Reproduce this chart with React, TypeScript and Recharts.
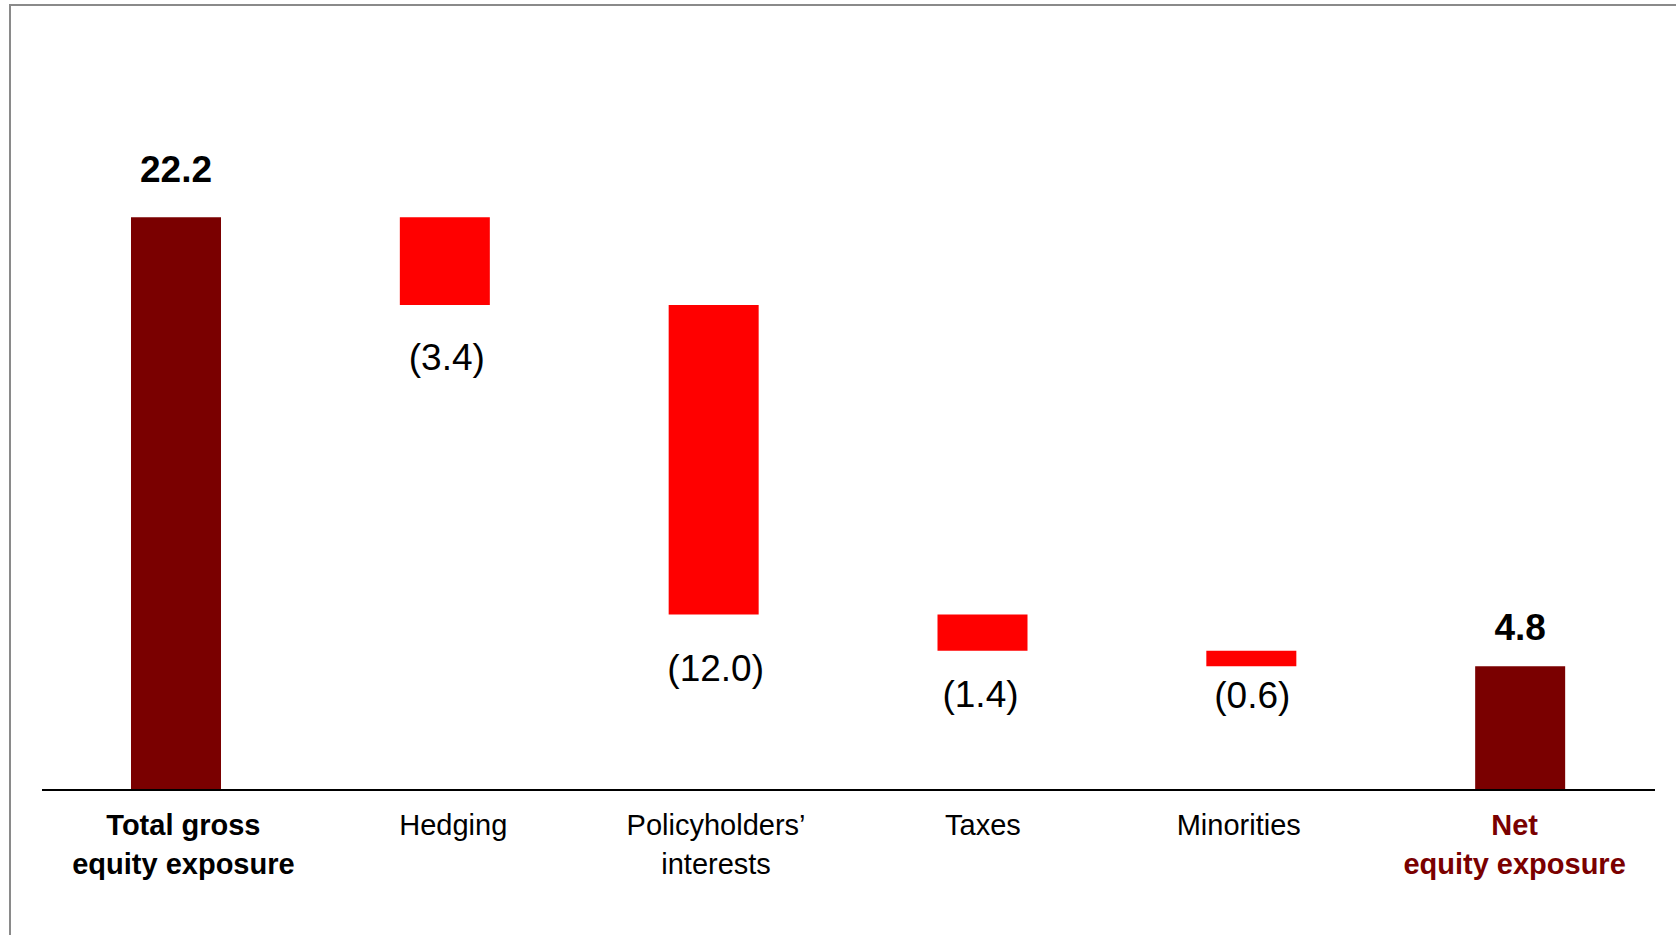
import React from 'react';
import { BarChart, Bar, XAxis, YAxis, Cell, LabelList } from 'recharts';

// equity exposure bridge, EUR bn
const categories = [
  'Total gross\nequity exposure',
  'Hedging',
  'Policyholders’\ninterests',
  'Taxes',
  'Minorities',
  'Net\nequity exposure',
];
const steps = [22.2, -3.4, -12.0, -1.4, -0.6, 4.8];
const isTotal = [true, false, false, false, false, true];

const DARK = '#7a0000';
const RED = '#ff0000';
const FONT = '"Liberation Sans", Arial, sans-serif';

// small hand nudges for the text around each bar
const tickNudge = [7, 8, 2, 0, -13, -6];
const labelNudge = [0, 2, 2, -2, 1, 0];
const topGap = [35, 0, 0, 0, 0, 26];
const dropGap = [0, 65, 66, 56, 42, 0];

// floating bars: totals start at zero, changes hang from the running total
let running = 0;
const data = categories.map((name, i) => {
  const v = steps[i];
  let range: [number, number];
  if (isTotal[i]) {
    range = [0, v];
    running = v;
  } else {
    range = [running + v, running];
    running += v;
  }
  return { name, range, value: v, total: isTotal[i] };
});

const CategoryTick = (props: any) => {
  const { x, y, payload, index } = props;
  const lines = String(payload.value).split('\n');
  const last = index === categories.length - 1;
  const first = index === 0;
  const tx = x + (tickNudge[index] || 0);
  return (
    <text
      x={tx}
      y={y}
      textAnchor="middle"
      fontFamily={FONT}
      fontSize={29}
      fontWeight={first || last ? 'bold' : 'normal'}
      fill={last ? DARK : '#000'}
    >
      {lines.map((l, k) => (
        <tspan key={k} x={tx} dy={k === 0 ? 45 : 39}>
          {l}
        </tspan>
      ))}
    </text>
  );
};

const ValueLabel = (props: any) => {
  const { x, y, width, height, index } = props;
  const d = data[index];
  const top = Math.min(y, y + height);
  const bottom = Math.max(y, y + height);
  const cx = x + width / 2 + labelNudge[index];
  if (d.total) {
    return (
      <text x={cx} y={top - topGap[index]} textAnchor="middle" fontFamily={FONT} fontSize={37} fontWeight="bold" fill="#000">
        {d.value.toFixed(1)}
      </text>
    );
  }
  return (
    <text x={cx} y={bottom + dropGap[index]} textAnchor="middle" fontFamily={FONT} fontSize={37} fill="#000">
      {`(${Math.abs(d.value).toFixed(1)})`}
    </text>
  );
};

export default function App() {
  return (
    <div style={{ position: 'fixed', left: 0, top: 0, width: 1676, height: 935, background: '#fff', overflow: 'hidden' }}>
      <div
        style={{
          position: 'absolute',
          left: 9,
          top: 4,
          right: -10,
          bottom: -10,
          borderTop: '2px solid #8a8a8a',
          borderLeft: '2px solid #8a8a8a',
        }}
      />
      <div style={{ position: 'absolute', left: 0, top: 0 }}>
        <BarChart width={1676} height={935} data={data} margin={{ top: 145, right: 21, bottom: 0, left: 42 }}>
          <XAxis
            dataKey="name"
            height={145}
            interval={0}
            tickLine={false}
            tickSize={0}
            tickMargin={0}
            axisLine={{ stroke: '#000', strokeWidth: 2 }}
            tick={<CategoryTick />}
          />
          <YAxis hide domain={[0, 25]} />
          <Bar dataKey="range" barSize={90} isAnimationActive={false}>
            {data.map((d, i) => (
              <Cell key={i} fill={d.total ? DARK : RED} />
            ))}
            <LabelList dataKey="value" content={<ValueLabel />} />
          </Bar>
        </BarChart>
      </div>
    </div>
  );
}
